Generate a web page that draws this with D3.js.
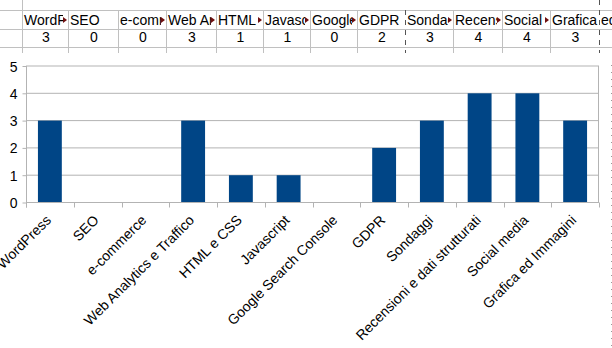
<!DOCTYPE html>
<html><head><meta charset="utf-8">
<script src="https://cdn.jsdelivr.net/npm/d3@7"></script>
<style>
html,body{margin:0;padding:0;background:#fff;overflow:hidden}
svg{display:block;font-family:"Liberation Sans",Arial,sans-serif}
</style></head>
<body>
<svg id="c" width="612" height="348"></svg>
<script>
const categories = ["WordPress","SEO","e-commerce","Web Analytics e Traffico","HTML e CSS","Javascript","Google Search Console","GDPR","Sondaggi","Recensioni e dati strutturati","Social media","Grafica ed Immagini"];
const values = [3,0,0,3,1,1,0,2,3,4,4,3];
const yTicks = [0,1,2,3,4,5];

const svg = d3.select("#c");
const gridCol = "#c0c0c0";

// ---- spreadsheet table ----
const colEdges = [22,68,118,166,216,263,310,357,405,453,502,550,599];
const rowLines = [10,29,47];
const tableBottom = 53;
const tbl = svg.append("g");
const defs = svg.append("defs");
rowLines.forEach(yy=>{
  tbl.append("line").attr("x1",0).attr("x2",612).attr("y1",yy+0.5).attr("y2",yy+0.5)
    .attr("stroke",gridCol).attr("stroke-width",1);
});
colEdges.forEach((xx,i)=>{
  const dashed = (xx===405 || xx===599);
  const y1 = (i===0 || xx===599) ? 0 : 10;
  tbl.append("line").attr("x1",xx+0.5).attr("x2",xx+0.5).attr("y1",y1).attr("y2",tableBottom)
    .attr("stroke", dashed ? "#555" : gridCol).attr("stroke-width",1)
    .attr("stroke-dasharray", dashed ? "5,5" : null);
});
categories.forEach((c,i)=>{
  const x0 = colEdges[i], x1 = colEdges[i+1];
  const last = i===categories.length-1;
  const id = "clip"+i;
  const cr = defs.append("clipPath").attr("id",id).append("rect")
    .attr("x",x0+1).attr("y",10).attr("width", last ? 612 : (x1-x0-1)).attr("height",19);
  const t = tbl.append("text").attr("x",x0+2).attr("y",25).attr("font-size",14).attr("fill","#000")
    .attr("clip-path","url(#"+id+")").text(c);
  const w = t.node().getComputedTextLength();
  if(!last && w > (x1-x0-3)){
    cr.attr("width", x1-x0-6);
    tbl.append("path").attr("d",`M${x1-5},${17} L${x1-1},${20} L${x1-5},${23} Z`).attr("fill","#6e0f0f");
  }
  tbl.append("text").attr("x",(x0+x1)/2+1).attr("y",42).attr("font-size",14).attr("text-anchor","middle")
    .attr("fill","#000").text(values[i]);
});

// ---- chart object background ----
svg.append("rect").attr("x",0).attr("y",tableBottom).attr("width",611).attr("height",348-tableBottom).attr("fill","#fff");
svg.append("line").attr("x1",611.5).attr("x2",611.5).attr("y1",tableBottom+12).attr("y2",348)
  .attr("stroke","#999").attr("stroke-dasharray","1,6");

// ---- chart ----
const pLeft = 26, pRight = 599, pTop = 66, pBottom = 202.5;
const x = d3.scaleBand().domain(categories).range([pLeft,pRight]).paddingInner(0.5).paddingOuter(0.25);
const step = x.step();
const y = d3.scaleLinear().domain([0,5]).range([pBottom,pTop]);

svg.append("g").selectAll("line").data(yTicks).join("line")
  .attr("x1",pLeft).attr("x2",pRight).attr("y1",d=>y(d)).attr("y2",d=>y(d))
  .attr("stroke","#b3b3b3").attr("stroke-width",1);
svg.append("line").attr("x1",pRight-0.5).attr("x2",pRight-0.5).attr("y1",y(5)).attr("y2",y(0)).attr("stroke","#b3b3b3");

svg.append("g").selectAll("rect").data(values).join("rect")
  .attr("x",(d,i)=>x(categories[i])).attr("width",x.bandwidth())
  .attr("y",d=>y(d)).attr("height",d=>y(0)-y(d))
  .attr("fill","#004586");

const yAxis = d3.axisLeft(y).tickValues(yTicks).tickSize(4).tickPadding(5).tickFormat(d3.format("d"));
const ya = svg.append("g").attr("transform",`translate(${pLeft+0.5},0)`).call(yAxis);
ya.select(".domain").attr("stroke","#b3b3b3").attr("d",`M0,${y(5)}V${y(0)+5}`);
ya.selectAll(".tick line").attr("stroke","#b3b3b3");
ya.selectAll(".tick text").attr("font-size",14).attr("fill","#000").attr("font-family","Liberation Sans, Arial, sans-serif").attr("dy","0.36em");

const bounds = d3.range(categories.length+1).map(i=>pLeft + i*step);
svg.append("g").selectAll("line").data(bounds).join("line")
  .attr("x1",d=>Math.round(d)+0.5).attr("x2",d=>Math.round(d)+0.5).attr("y1",y(0)).attr("y2",y(0)+5)
  .attr("stroke","#b3b3b3");
svg.append("line").attr("x1",pLeft).attr("x2",pRight).attr("y1",y(0)).attr("y2",y(0)).attr("stroke","#b3b3b3");

svg.append("g").selectAll("text").data(categories).join("text")
  .attr("transform",d=>`translate(${x(d)+x.bandwidth()/2+2},${221}) rotate(-45)`)
  .attr("text-anchor","end").attr("font-size",14).attr("fill","#000").text(d=>d);
</script>
</body></html>
